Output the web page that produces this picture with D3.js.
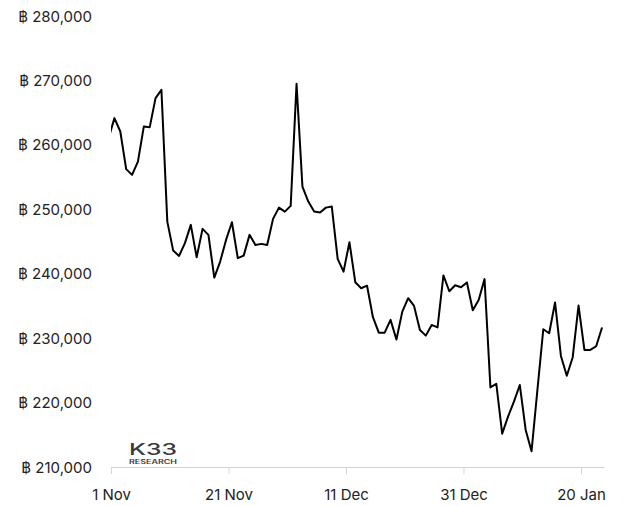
<!DOCTYPE html>
<html><head><meta charset="utf-8">
<script src="https://cdn.jsdelivr.net/npm/d3@7"></script>
<style>
body{margin:0;background:#fff}
svg{display:block}
text{font-family:Inter,"Noto Sans","DejaVu Sans",sans-serif}
</style>
</head><body>
<svg id="chart" width="626" height="506"></svg>
<script>
// ---- data ----
const firstDate = "2023-10-31T14:00:00Z";   // daily observations
const values = [
  261000, 264150, 262070, 256230, 255340, 257410, 262840, 262720, 267250, 268540,
  248090, 243590, 242760, 244740, 247580, 242560, 246960, 246030, 239400, 241880,
  245250, 247990, 242410, 242810, 246030, 244470, 244630, 244470, 248510, 250260,
  249640, 250530, 269470, 253530, 251200, 249640, 249490, 250260, 250420, 242300,
  240330, 244890, 238680, 237750, 238140, 233250, 230850, 230850, 232830, 229800,
  234120, 236200, 235000, 231270, 230390, 232050, 231660, 239740, 237280, 238210,
  237900, 238650, 234330, 235930, 239160, 222350, 222920, 215170, 217810, 220140,
  222730, 215750, 212440, 221960, 231380, 230760, 235540, 227240, 224160, 227000,
  235050, 228170, 228170, 228740, 231660
];
const xTickDates = ["2023-11-01","2023-11-21","2023-12-11","2023-12-31","2024-01-20"];
const yTickValues = [210000, 220000, 230000, 240000, 250000, 260000, 270000, 280000];
const xDomain = ["2023-11-01T00:00:00Z", "2024-01-23T22:00:00Z"];
const yDomain = [210000, 280000];

// ---- layout ----
const plot = {left: 111, right: 604, top: 16, bottom: 467};
const svg = d3.select("#chart");

const t0 = new Date(firstDate);
const series = values.map((v, i) => ({date: d3.utcDay.offset(t0, i), value: v}));

const x = d3.scaleUtc().domain(xDomain.map(d => new Date(d))).range([plot.left, plot.right]);
const y = d3.scaleLinear().domain(yDomain).range([plot.bottom, plot.top]);

// clip
svg.append("defs").append("clipPath").attr("id", "clip")
  .append("rect").attr("x", plot.left).attr("y", 0)
  .attr("width", plot.right - plot.left + 10).attr("height", 506);

// y labels
const fmt = d3.format(",");
svg.append("g").selectAll("text").data(yTickValues).join("text")
  .attr("x", 92).attr("y", d => y(d))
  .attr("text-anchor", "end").attr("dominant-baseline", "central")
  .attr("font-size", 15).attr("fill", "#222")
  .text(d => "\u0E3F " + fmt(d));

// x axis
const xa = svg.append("g").attr("transform", `translate(0,${plot.bottom})`)
  .call(d3.axisBottom(x)
    .tickValues(xTickDates.map(d => new Date(d + "T00:00:00Z")))
    .tickFormat(d3.utcFormat("%-d %b"))
    .tickSize(7).tickSizeOuter(0));
xa.select(".domain").attr("stroke", "#ccd6eb").attr("stroke-width", 1);
xa.selectAll(".tick line").attr("stroke", "#ccd6eb");
xa.selectAll(".tick text").attr("y", 33).attr("dy", null)
  .attr("font-size", 15).attr("fill", "#222").attr("font-family", null);
xa.attr("font-family", null).attr("font-size", null);

// line
svg.append("path").datum(series)
  .attr("clip-path", "url(#clip)")
  .attr("fill", "none").attr("stroke", "#000").attr("stroke-width", 2)
  .attr("stroke-linejoin", "round")
  .attr("d", d3.line().x(d => x(d.date)).y(d => y(d.value)));

// logo
const logo = svg.append("g").attr("fill", "#3a3a3a");
logo.append("text").attr("x", 129).attr("y", 454.5)
  .attr("font-size", 16).attr("font-weight", 500)
  .attr("textLength", 48).attr("lengthAdjust", "spacingAndGlyphs")
  .text("K33");
logo.append("text").attr("x", 129).attr("y", 463.5)
  .attr("font-size", 5.5).attr("font-weight", 600)
  .attr("textLength", 48).attr("lengthAdjust", "spacingAndGlyphs")
  .text("RESEARCH");
</script>
</body></html>
